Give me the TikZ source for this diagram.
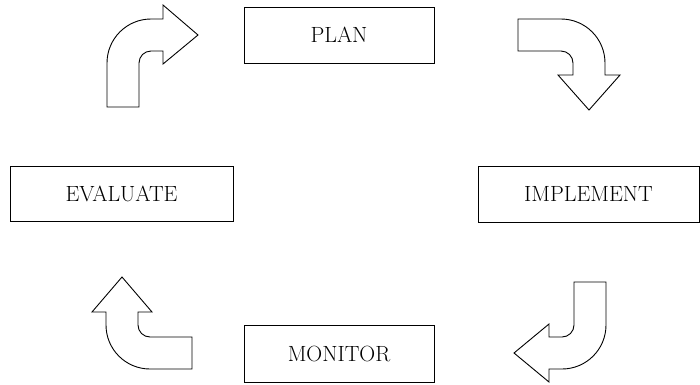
\documentclass[tikz,border=0pt]{standalone}
\begin{document}
\begin{tikzpicture}[x=1bp,y=-1bp,
  lbl/.style={draw=black, line width=0.9bp, inner sep=0pt, outer sep=0pt,
    font=\fontsize{22bp}{26bp}\selectfont},
  blockarrow/.style={draw=black, line width=0.9bp, line join=miter, fill=white}]
\useasboundingbox (0,0) rectangle (700,384);
% boxes
\node[lbl, minimum width=190bp, minimum height=56bp] (plan) at (339,35) {PLAN};
\node[lbl, minimum width=223bp, minimum height=55bp] (evaluate) at (121.5,193.5) {EVALUATE};
\node[lbl, minimum width=221bp, minimum height=56bp] (implement) at (588.5,194) {IMPLEMENT};
\node[lbl, minimum width=190bp, minimum height=57bp] (monitor) at (339,353.5) {MONITOR};
% top-left arrow (evaluate -> plan)
\draw[blockarrow] (107,107) -- (107,63) arc[start angle=180,end angle=270,radius=44]
  -- (163,19) -- (163,5) -- (198,35) -- (163,64) -- (163,51) -- (151,51)
  arc[start angle=270,end angle=180,radius=12] -- (139,107) -- cycle;
% top-right arrow (plan -> implement)
\draw[blockarrow] (518,19) -- (561,19) arc[start angle=270,end angle=360,radius=44]
  -- (605,75) -- (620,75) -- (589,110) -- (558,75) -- (573,75) -- (573,63)
  arc[start angle=0,end angle=-90,radius=12] -- (518,51) -- cycle;
% bottom-right arrow (implement -> monitor)
\draw[blockarrow] (574,282) -- (606,282) -- (606,325) arc[start angle=0,end angle=90,radius=44]
  -- (549,369) -- (549,382) -- (514,353) -- (549,324) -- (549,337) -- (562,337)
  arc[start angle=90,end angle=0,radius=12] -- cycle;
% bottom-left arrow (monitor -> evaluate)
\draw[blockarrow] (122,277) -- (152,312) -- (138,312) -- (138,325)
  arc[start angle=180,end angle=90,radius=12] -- (192,337) -- (192,369) -- (150,369)
  arc[start angle=90,end angle=180,radius=44] -- (106,312) -- (92,312) -- cycle;
\end{tikzpicture}
\end{document}
